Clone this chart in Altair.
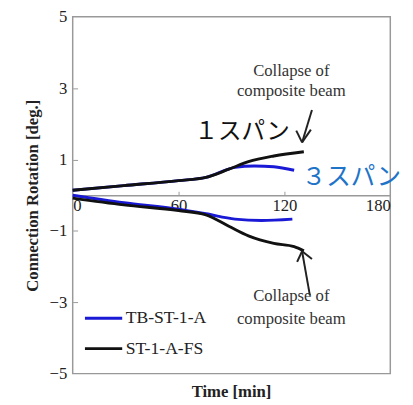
import altair as alt
import pandas as pd

# --- data ---
t_black_up = [0, 29, 60, 75.5, 88.5, 99.6, 114, 131]
r_black_up = [0.14, 0.27, 0.41, 0.50, 0.73, 0.94, 1.10, 1.22]
t_blue_up = [0, 29, 60, 75.5, 92, 103, 114, 125.5]
r_blue_up = [0.14, 0.27, 0.41, 0.50, 0.78, 0.82, 0.80, 0.70]
t_blue_dn = [0, 29, 60, 75.5, 92, 107, 124.5]
r_blue_dn = [0.0, -0.21, -0.39, -0.52, -0.67, -0.71, -0.67]
t_black_dn = [0, 29, 60, 75.5, 88.5, 99.6, 114, 125.5, 131]
r_black_dn = [-0.08, -0.27, -0.43, -0.55, -0.87, -1.14, -1.35, -1.44, -1.56]

series = ["TB-ST-1-A", "ST-1-A-FS"]
colors = ["#1a1ad6", "#111111"]

x_ticks = [0, 60, 120, 180]
y_ticks = [-5, -3, -1, 1, 3, 5]

# annotation texts (data coords)
note_text = ["Collapse of", "composite beam", "Collapse of", "composite beam"]
note_x = [123.9, 123.9, 123.9, 123.9]
note_y = [3.49, 2.91, -2.83, -3.46]

jp_text = ["１スパン", "３スパン"]
jp_x = [96, 158]
jp_y = [1.76, 0.52]
jp_color = ["#111111", "#1f74c8"]
jp_size = [24, 25]

# arrows: shaft + two wing segments each
arr_x = [135.6, 126.7, 135.0, 134.4, 127.2, 135.6]
arr_y = [2.39, 1.81, 1.84, -2.80, -1.87, -1.79]
arr_x2 = [130.0, 130.0, 130.0, 130.0, 130.0, 130.0]
arr_y2 = [1.48, 1.48, 1.48, -1.57, -1.57, -1.57]

rows = []
for name, branch, ts, rs in [
    ("TB-ST-1-A", "up", t_blue_up, r_blue_up),
    ("TB-ST-1-A", "dn", t_blue_dn, r_blue_dn),
    ("ST-1-A-FS", "up", t_black_up, r_black_up),
    ("ST-1-A-FS", "dn", t_black_dn, r_black_dn),
]:
    for i, (t, r) in enumerate(zip(ts, rs)):
        rows.append({"series": name, "branch": name + branch, "t": t, "r": r, "i": i})
df = pd.DataFrame(rows)

SERIF = "Liberation Serif"
xs = alt.Scale(domain=[0, 180], nice=False)
ys = alt.Scale(domain=[-5, 5], nice=False)

lines = alt.Chart(df).mark_line(strokeWidth=3, interpolate="monotone").encode(
    x=alt.X("t:Q", scale=xs, axis=alt.Axis(
        orient="bottom", offset=-182, values=x_ticks, title=None, ticks=False,
        domainColor="#999999", domainWidth=1.5, labelFont=SERIF, labelFontSize=17,
        labelColor="#222", grid=False, labelPadding=3)),
    y=alt.Y("r:Q", scale=ys, axis=alt.Axis(
        orient="left", values=y_ticks, title="Connection Rotation [deg.]",
        titleFont=SERIF, titleFontSize=17, titleFontWeight="bold", titleColor="#222",
        labelFont=SERIF, labelFontSize=17, labelColor="#222", ticks=False,
        domain=False, grid=False, labelPadding=6, titlePadding=8)),
    color=alt.Color("series:N", scale=alt.Scale(domain=series, range=colors),
                    sort=series,
                    legend=alt.Legend(orient="none", legendX=11, legendY=287, title=None,
                                      symbolType="stroke", symbolSize=1444,
                                      symbolStrokeWidth=3, labelFont=SERIF,
                                      labelFontSize=18, labelColor="#222",
                                      rowPadding=1, labelOffset=2, padding=0)),
    detail="branch:N",
    order="i:Q",
)

tick_df = pd.DataFrame({"t": [0.0], "r": [0.0]})
ticks = alt.Chart(tick_df).mark_point(opacity=0).encode(
    x=alt.X("t:Q", scale=xs, axis=alt.Axis(
        orient="top", offset=-182, values=[60, 120], labels=False, domain=False,
        ticks=True, tickSize=4, tickColor="#999999", title=None, grid=False)),
    y=alt.Y("r:Q", scale=ys, axis=alt.Axis(
        orient="right", offset=-324, values=[-3, -1, 1, 3], labels=False, domain=False,
        ticks=True, tickSize=5, tickColor="#999999", title=None, grid=False)),
)

notes = alt.Chart(pd.DataFrame({"txt": note_text, "x": note_x, "y": note_y})).mark_text(
    font=SERIF, fontSize=17, color="#333333", align="center", baseline="middle"
).encode(x=alt.X("x:Q", scale=xs, axis=None), y=alt.Y("y:Q", scale=ys, axis=None),
         text="txt:N")

jp = alt.Chart(pd.DataFrame({"txt": jp_text, "x": jp_x, "y": jp_y, "c": jp_color, "s": jp_size})).mark_text(
    font="Noto Sans CJK JP", align="center", baseline="middle"
).encode(x=alt.X("x:Q", scale=xs, axis=None), y=alt.Y("y:Q", scale=ys, axis=None),
         text="txt:N",
         color=alt.Color("c:N", scale=None), size=alt.Size("s:Q", scale=None))

arrows = alt.Chart(pd.DataFrame({"x": arr_x, "y": arr_y, "x2": arr_x2, "y2": arr_y2})).mark_rule(
    color="#222222", strokeWidth=2
).encode(x=alt.X("x:Q", scale=xs, axis=None), y=alt.Y("y:Q", scale=ys, axis=None),
         x2="x2:Q", y2="y2:Q")

chart = alt.layer(ticks, lines, arrows, notes, jp).properties(
    width=324, height=364,
    autosize=alt.AutoSizeParams(type="none"),
    padding={"left": 66, "top": 5, "right": 15, "bottom": 28},
    title=alt.TitleParams("Time [min]", orient="bottom", font=SERIF, fontSize=17,
                          fontWeight="bold", color="#222", offset=3),
).configure_view(stroke="#999999", strokeWidth=1.5)

chart.save("out.html", embed_options={"renderer": "svg", "actions": False})
